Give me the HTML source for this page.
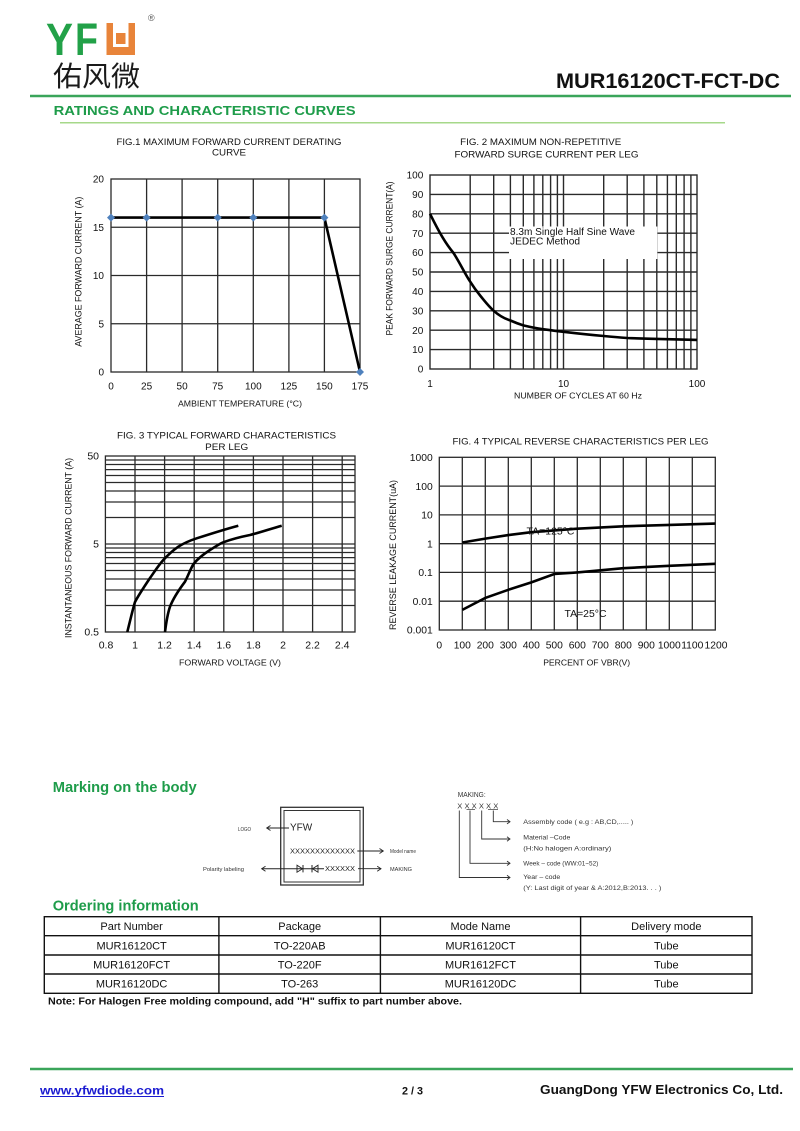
<!DOCTYPE html>
<html><head><meta charset="utf-8"><style>
html,body{margin:0;padding:0;background:#fff;}
svg{display:block;}
text{font-family:"Liberation Sans",Arial,sans-serif;}
</style></head><body>
<svg width="800" height="1131" viewBox="0 0 800 1131" xmlns="http://www.w3.org/2000/svg">
<rect width="800" height="1131" fill="#fff"/>

<!-- HEADER -->
<text x="46" y="55" font-size="45" font-weight="bold" fill="#22a148" textLength="27" lengthAdjust="spacingAndGlyphs">Y</text>
<text x="75" y="55" font-size="45" font-weight="bold" fill="#22a148" textLength="23" lengthAdjust="spacingAndGlyphs">F</text>
<path d="M106.5,23 H135 V55 H106.5 Z M113,23 V47 H128.5 V23 Z" fill="#e8843a" fill-rule="evenodd"/>
<path d="M116,33 H125.5 V44 H116 Z" fill="#e8843a"/>
<text x="148" y="21" font-size="9" fill="#555">®</text>
<text x="53" y="86" font-size="28" fill="#1a1a1a" font-family="'Noto Sans CJK SC','WenQuanYi Zen Hei',sans-serif" textLength="87" lengthAdjust="spacingAndGlyphs">佑风微</text>
<text x="556" y="88" font-size="21" font-weight="bold" fill="#111" textLength="224" lengthAdjust="spacingAndGlyphs">MUR16120CT-FCT-DC</text>
<line x1="30" y1="96" x2="791" y2="96" stroke="#3aa55a" stroke-width="2.5"/>
<text x="53.6" y="115" font-size="13" font-weight="bold" fill="#1e9c4a" textLength="302" lengthAdjust="spacingAndGlyphs">RATINGS AND CHARACTERISTIC CURVES</text>
<line x1="60" y1="122.7" x2="725" y2="122.7" stroke="#a6d88a" stroke-width="1.5"/>

<!-- FIG 1 -->
<g font-size="9.5" fill="#111" text-anchor="middle">
<text x="229" y="145" textLength="225" lengthAdjust="spacingAndGlyphs">FIG.1 MAXIMUM FORWARD CURRENT DERATING</text>
<text x="229" y="155.6" textLength="34" lengthAdjust="spacingAndGlyphs">CURVE</text>
</g>
<g stroke="#2a2a2a" stroke-width="1.3" fill="none">
<rect x="111" y="179" width="249" height="193"/>
<line x1="146.6" y1="179" x2="146.6" y2="372"/><line x1="182.1" y1="179" x2="182.1" y2="372"/>
<line x1="217.7" y1="179" x2="217.7" y2="372"/><line x1="253.3" y1="179" x2="253.3" y2="372"/>
<line x1="288.9" y1="179" x2="288.9" y2="372"/><line x1="324.4" y1="179" x2="324.4" y2="372"/>
<line x1="111" y1="227.25" x2="360" y2="227.25"/><line x1="111" y1="275.5" x2="360" y2="275.5"/>
<line x1="111" y1="323.75" x2="360" y2="323.75"/>
</g>
<polyline points="111,217.6 324.4,217.6 360,372" fill="none" stroke="#000" stroke-width="2.6"/>
<g fill="#4f81bd">
<polygon points="111,213.6 115,217.6 111,221.6 107,217.6"/>
<polygon points="146.6,213.6 150.6,217.6 146.6,221.6 142.6,217.6"/>
<polygon points="217.7,213.6 221.7,217.6 217.7,221.6 213.7,217.6"/>
<polygon points="253.3,213.6 257.3,217.6 253.3,221.6 249.3,217.6"/>
<polygon points="324.4,213.6 328.4,217.6 324.4,221.6 320.4,217.6"/>
<polygon points="360,368 364,372 360,376 356,372"/>
</g>
<g font-size="10" fill="#111" text-anchor="end">
<text x="104" y="182.6">20</text><text x="104" y="230.9">15</text><text x="104" y="279.1">10</text>
<text x="104" y="327.4">5</text><text x="104" y="375.6">0</text>
</g>
<g font-size="10" fill="#111" text-anchor="middle">
<text x="111" y="389.6">0</text><text x="146.6" y="389.6">25</text><text x="182.1" y="389.6">50</text>
<text x="217.7" y="389.6">75</text><text x="253.3" y="389.6">100</text><text x="288.9" y="389.6">125</text>
<text x="324.4" y="389.6">150</text><text x="360" y="389.6">175</text>
</g>
<text x="240" y="406.4" font-size="8.6" fill="#111" text-anchor="middle" textLength="124" lengthAdjust="spacingAndGlyphs">AMBIENT TEMPERATURE (°C)</text>
<text transform="translate(81.5,271.7) rotate(-90)" font-size="9" fill="#111" text-anchor="middle" textLength="150" lengthAdjust="spacingAndGlyphs">AVERAGE FORWARD CURRENT (A)</text>

<!-- FIG 2 -->
<g font-size="9.5" fill="#111" text-anchor="middle">
<text x="540.7" y="145" textLength="161" lengthAdjust="spacingAndGlyphs">FIG. 2 MAXIMUM NON-REPETITIVE</text>
<text x="546.5" y="157.3" textLength="184" lengthAdjust="spacingAndGlyphs">FORWARD SURGE CURRENT PER LEG</text>
</g>
<g stroke="#2a2a2a" stroke-width="1.4" fill="none">
<rect x="430" y="175" width="267" height="194"/>
<line x1="470.2" y1="175" x2="470.2" y2="369"/><line x1="493.7" y1="175" x2="493.7" y2="369"/>
<line x1="510.4" y1="175" x2="510.4" y2="369"/><line x1="523.3" y1="175" x2="523.3" y2="369"/>
<line x1="533.9" y1="175" x2="533.9" y2="369"/><line x1="542.8" y1="175" x2="542.8" y2="369"/>
<line x1="550.6" y1="175" x2="550.6" y2="369"/><line x1="557.4" y1="175" x2="557.4" y2="369"/>
<line x1="563.5" y1="175" x2="563.5" y2="369"/><line x1="603.7" y1="175" x2="603.7" y2="369"/>
<line x1="627.2" y1="175" x2="627.2" y2="369"/><line x1="643.9" y1="175" x2="643.9" y2="369"/>
<line x1="656.8" y1="175" x2="656.8" y2="369"/><line x1="667.4" y1="175" x2="667.4" y2="369"/>
<line x1="676.3" y1="175" x2="676.3" y2="369"/><line x1="684.1" y1="175" x2="684.1" y2="369"/>
<line x1="690.9" y1="175" x2="690.9" y2="369"/>
<line x1="430" y1="194.4" x2="697" y2="194.4"/><line x1="430" y1="213.8" x2="697" y2="213.8"/>
<line x1="430" y1="233.2" x2="697" y2="233.2"/><line x1="430" y1="252.6" x2="697" y2="252.6"/>
<line x1="430" y1="272" x2="697" y2="272"/><line x1="430" y1="291.4" x2="697" y2="291.4"/>
<line x1="430" y1="310.8" x2="697" y2="310.8"/><line x1="430" y1="330.2" x2="697" y2="330.2"/>
<line x1="430" y1="349.6" x2="697" y2="349.6"/>
</g>
<rect x="509" y="226.5" width="148.3" height="32.5" fill="#fff"/>
<text x="510" y="235" font-size="10" fill="#111" textLength="125" lengthAdjust="spacingAndGlyphs">8.3m Single Half Sine Wave</text>
<text x="510" y="244.5" font-size="10" fill="#111" textLength="70" lengthAdjust="spacingAndGlyphs">JEDEC Method</text>
<path d="M430,213.8 C440,234 446,244 453.5,253 C460,263 465,274 470.2,281.7 C476,291 479,294 483.1,299.2 C487,304 490,307.5 493.7,310.8 C499,315.5 504,318.5 510.4,320.5 C515,322.5 519,324 523.3,325.4 C530,327 536,328.3 542.8,329.2 C550,330.2 556,331 563.5,331.8 C578,333.5 590,334.8 603.7,336 C614,337 620,337.5 627.2,338 C640,338.6 648,338.7 656.8,338.9 C672,339.3 684,339.6 697,339.9" fill="none" stroke="#000" stroke-width="2.6"/>
<g font-size="10" fill="#111" text-anchor="end">
<text x="423.3" y="178.6">100</text><text x="423.3" y="198">90</text><text x="423.3" y="217.4">80</text>
<text x="423.3" y="236.8">70</text><text x="423.3" y="256.2">60</text><text x="423.3" y="275.6">50</text>
<text x="423.3" y="295">40</text><text x="423.3" y="314.4">30</text><text x="423.3" y="333.8">20</text>
<text x="423.3" y="353.2">10</text><text x="423.3" y="372.6">0</text>
</g>
<g font-size="10" fill="#111" text-anchor="middle">
<text x="430" y="386.8">1</text><text x="563.5" y="386.8">10</text><text x="697" y="386.8">100</text>
</g>
<text x="578" y="398.3" font-size="8.6" fill="#111" text-anchor="middle" textLength="128" lengthAdjust="spacingAndGlyphs">NUMBER OF CYCLES AT 60 Hz</text>
<text transform="translate(392.3,258.5) rotate(-90)" font-size="9" fill="#111" text-anchor="middle" textLength="154" lengthAdjust="spacingAndGlyphs">PEAK FORWARD SURGE CURRENT(A)</text>

<!-- FIG 3 -->
<g font-size="9.5" fill="#111" text-anchor="middle">
<text x="226.5" y="438.3" textLength="219" lengthAdjust="spacingAndGlyphs">FIG. 3 TYPICAL FORWARD CHARACTERISTICS</text>
<text x="226.7" y="450" textLength="43" lengthAdjust="spacingAndGlyphs">PER LEG</text>
</g>
<g stroke="#2a2a2a" stroke-width="1.3" fill="none">
<rect x="105.4" y="456" width="249.6" height="176"/>
<line x1="135" y1="456" x2="135" y2="632"/><line x1="164.6" y1="456" x2="164.6" y2="632"/>
<line x1="194.2" y1="456" x2="194.2" y2="632"/><line x1="223.8" y1="456" x2="223.8" y2="632"/>
<line x1="253.4" y1="456" x2="253.4" y2="632"/><line x1="283" y1="456" x2="283" y2="632"/>
<line x1="312.6" y1="456" x2="312.6" y2="632"/><line x1="342.2" y1="456" x2="342.2" y2="632"/>
<line x1="105.4" y1="605.5" x2="355" y2="605.5"/><line x1="105.4" y1="590" x2="355" y2="590"/>
<line x1="105.4" y1="579" x2="355" y2="579"/><line x1="105.4" y1="570.5" x2="355" y2="570.5"/>
<line x1="105.4" y1="563.5" x2="355" y2="563.5"/><line x1="105.4" y1="557.6" x2="355" y2="557.6"/>
<line x1="105.4" y1="552.5" x2="355" y2="552.5"/><line x1="105.4" y1="548" x2="355" y2="548"/>
<line x1="105.4" y1="544" x2="355" y2="544"/>
<line x1="105.4" y1="517.5" x2="355" y2="517.5"/><line x1="105.4" y1="502" x2="355" y2="502"/>
<line x1="105.4" y1="491" x2="355" y2="491"/><line x1="105.4" y1="482.5" x2="355" y2="482.5"/>
<line x1="105.4" y1="475.5" x2="355" y2="475.5"/><line x1="105.4" y1="469.6" x2="355" y2="469.6"/>
<line x1="105.4" y1="464.5" x2="355" y2="464.5"/><line x1="105.4" y1="460" x2="355" y2="460"/>
</g>
<path d="M127.3,632 L131,617 C133,609 134,605 135,602 C138,596 142,590 150,578 C155,571 158,566 163.3,560 C168,555 172,551 178.3,546.7 C184,543 190,540.5 196.7,538.3 C210,534 224,529.5 238.3,525.7" fill="none" stroke="#000" stroke-width="2.6"/>
<path d="M165,632 C166,624 167.5,614 170,606.7 C173,599 178,591 185,581.7 C188,576 190,570 193.3,564.3 C197,559.5 203,554.5 210,550 C215,547 219,544 223.3,542.3 C232,539 240,537 250,535 C260,532.5 270,529 281.7,525.7" fill="none" stroke="#000" stroke-width="2.6"/>
<g font-size="10.5" fill="#111" text-anchor="end">
<text x="99" y="459.7">50</text><text x="99" y="547.7">5</text><text x="99" y="635.7">0.5</text>
</g>
<g font-size="10.5" fill="#111" text-anchor="middle">
<text x="106" y="648.7">0.8</text><text x="135" y="648.7">1</text><text x="164.6" y="648.7">1.2</text>
<text x="194.2" y="648.7">1.4</text><text x="223.8" y="648.7">1.6</text><text x="253.4" y="648.7">1.8</text>
<text x="283" y="648.7">2</text><text x="312.6" y="648.7">2.2</text><text x="342.2" y="648.7">2.4</text>
</g>
<text x="230" y="665.6" font-size="8.6" fill="#111" text-anchor="middle" textLength="102" lengthAdjust="spacingAndGlyphs">FORWARD VOLTAGE (V)</text>
<text transform="translate(71.3,548) rotate(-90)" font-size="9" fill="#111" text-anchor="middle" textLength="180" lengthAdjust="spacingAndGlyphs">INSTANTANEOUS FORWARD CURRENT (A)</text>

<!-- FIG 4 -->
<text x="580.5" y="444.3" font-size="9.5" fill="#111" text-anchor="middle" textLength="256" lengthAdjust="spacingAndGlyphs">FIG. 4 TYPICAL REVERSE CHARACTERISTICS PER LEG</text>
<g stroke="#2a2a2a" stroke-width="1.3" fill="none">
<rect x="439.3" y="457.3" width="276" height="172.7"/>
<line x1="462.3" y1="457.3" x2="462.3" y2="630"/><line x1="485.3" y1="457.3" x2="485.3" y2="630"/>
<line x1="508.3" y1="457.3" x2="508.3" y2="630"/><line x1="531.3" y1="457.3" x2="531.3" y2="630"/>
<line x1="554.3" y1="457.3" x2="554.3" y2="630"/><line x1="577.3" y1="457.3" x2="577.3" y2="630"/>
<line x1="600.3" y1="457.3" x2="600.3" y2="630"/><line x1="623.3" y1="457.3" x2="623.3" y2="630"/>
<line x1="646.3" y1="457.3" x2="646.3" y2="630"/><line x1="669.3" y1="457.3" x2="669.3" y2="630"/>
<line x1="692.3" y1="457.3" x2="692.3" y2="630"/>
<line x1="439.3" y1="601.2" x2="715.3" y2="601.2"/><line x1="439.3" y1="572.4" x2="715.3" y2="572.4"/>
<line x1="439.3" y1="543.7" x2="715.3" y2="543.7"/><line x1="439.3" y1="514.9" x2="715.3" y2="514.9"/>
<line x1="439.3" y1="486.1" x2="715.3" y2="486.1"/>
</g>
<polyline points="462.3,542.5 485.3,538.6 508.3,535.1 531.3,532.2 554.3,530.4 577.3,528.7 623.3,526.3 669.3,524.9 715.3,523.6" fill="none" stroke="#000" stroke-width="2.6"/>
<polyline points="462.3,609.9 485.3,597.9 508.3,589.8 531.3,582.4 554.3,574 577.3,572.4 623.3,568.2 669.3,565.8 715.3,563.8" fill="none" stroke="#000" stroke-width="2.6"/>
<text x="526.5" y="534.5" font-size="10" fill="#111" textLength="48" lengthAdjust="spacingAndGlyphs">TA=125°C</text>
<text x="564.5" y="617" font-size="10" fill="#111" textLength="42" lengthAdjust="spacingAndGlyphs">TA=25°C</text>
<g font-size="10.3" fill="#111" text-anchor="end">
<text x="432.7" y="461">1000</text><text x="432.7" y="489.8">100</text><text x="432.7" y="518.6">10</text>
<text x="432.7" y="547.4">1</text><text x="432.7" y="576.1">0.1</text><text x="432.7" y="604.9">0.01</text>
<text x="432.7" y="633.7">0.001</text>
</g>
<g font-size="10.3" fill="#111" text-anchor="middle">
<text x="439.3" y="648.7">0</text><text x="462.3" y="648.7">100</text><text x="485.3" y="648.7">200</text>
<text x="508.3" y="648.7">300</text><text x="531.3" y="648.7">400</text><text x="554.3" y="648.7">500</text>
<text x="577.3" y="648.7">600</text><text x="600.3" y="648.7">700</text><text x="623.3" y="648.7">800</text>
<text x="646.3" y="648.7">900</text><text x="669.3" y="648.7">1000</text><text x="692.3" y="648.7">1100</text>
<text x="716" y="648.7">1200</text>
</g>
<text x="586.7" y="665.6" font-size="8.6" fill="#111" text-anchor="middle" textLength="87" lengthAdjust="spacingAndGlyphs">PERCENT OF VBR(V)</text>
<text transform="translate(396,555) rotate(-90)" font-size="9" fill="#111" text-anchor="middle" textLength="150" lengthAdjust="spacingAndGlyphs">REVERSE LEAKAGE CURRENT(uA)</text>

<!-- MARKING -->
<text x="52.7" y="792" font-size="15" font-weight="bold" fill="#1e9c4a" textLength="144" lengthAdjust="spacingAndGlyphs">Marking on the body</text>
<rect x="280.7" y="807.3" width="82.6" height="77.7" fill="none" stroke="#333" stroke-width="1.3"/>
<rect x="284" y="810.5" width="76" height="71.5" fill="none" stroke="#333" stroke-width="1"/>
<text x="290" y="830.5" font-size="10" fill="#222">YFW</text>
<text x="238" y="831" font-size="5.8" fill="#333" textLength="13" lengthAdjust="spacingAndGlyphs">LOGO</text>
<line x1="266.7" y1="828" x2="289" y2="828" stroke="#222" stroke-width="1"/>
<polyline points="270.5,825.5 266.7,828 270.5,830.5" fill="none" stroke="#222" stroke-width="0.9"/>
<text x="290" y="853.5" font-size="7.5" fill="#222" font-family="'Liberation Serif',serif" textLength="65" lengthAdjust="spacingAndGlyphs">XXXXXXXXXXXXX</text>
<line x1="357.3" y1="851" x2="383.3" y2="851" stroke="#222" stroke-width="0.9"/>
<polyline points="379.5,848.5 383.3,851 379.5,853.5" fill="none" stroke="#222" stroke-width="0.9"/>
<text x="390" y="853" font-size="5.8" fill="#333" textLength="26" lengthAdjust="spacingAndGlyphs">Model name</text>
<text x="203" y="871" font-size="5.8" fill="#333" textLength="41" lengthAdjust="spacingAndGlyphs">Polarity labeling</text>
<line x1="261.7" y1="868.7" x2="324" y2="868.7" stroke="#222" stroke-width="1"/>
<polyline points="265.5,866.2 261.7,868.7 265.5,871.2" fill="none" stroke="#222" stroke-width="0.9"/>
<polygon points="297,865.2 297,872.2 302.5,868.7" fill="none" stroke="#222" stroke-width="0.9"/>
<line x1="303" y1="865" x2="303" y2="872.4" stroke="#222" stroke-width="1"/>
<polygon points="318,865.2 318,872.2 312.5,868.7" fill="none" stroke="#222" stroke-width="0.9"/>
<line x1="312" y1="865" x2="312" y2="872.4" stroke="#222" stroke-width="1"/>
<text x="325" y="871.2" font-size="7.5" fill="#222" font-family="'Liberation Serif',serif" textLength="30" lengthAdjust="spacingAndGlyphs">XXXXXX</text>
<line x1="358" y1="868.7" x2="381" y2="868.7" stroke="#222" stroke-width="0.9"/>
<polyline points="377.2,866.2 381,868.7 377.2,871.2" fill="none" stroke="#222" stroke-width="0.9"/>
<text x="390" y="871" font-size="5.8" fill="#333" textLength="22" lengthAdjust="spacingAndGlyphs">MAKING</text>

<text x="457.7" y="797" font-size="7" fill="#333" textLength="28" lengthAdjust="spacingAndGlyphs">MAKING:</text>
<text x="457.3" y="808.3" font-size="7.5" fill="#333" textLength="41" lengthAdjust="spacingAndGlyphs">X X X X X X</text>
<line x1="466.5" y1="809.5" x2="475" y2="809.5" stroke="#333" stroke-width="0.7"/>
<line x1="488" y1="809.5" x2="498" y2="809.5" stroke="#333" stroke-width="0.7"/>
<g stroke="#333" stroke-width="0.9" fill="none">
<polyline points="493.3,810.5 493.3,821.7 510,821.7"/><polyline points="507,819.5 510,821.7 507,823.9"/>
<polyline points="481.7,810.5 481.7,839 510,839"/><polyline points="507,836.8 510,839 507,841.2"/>
<polyline points="470,810.5 470,863.3 510,863.3"/><polyline points="507,861.1 510,863.3 507,865.5"/>
<polyline points="459.3,810.5 459.3,877.5 510,877.5"/><polyline points="507,875.3 510,877.5 507,879.7"/>
</g>
<g font-size="6.3" fill="#333">
<text x="523.3" y="824.2" textLength="110" lengthAdjust="spacingAndGlyphs">Assembly code ( e.g : AB,CD,..... )</text>
<text x="523.3" y="839.5" textLength="47" lengthAdjust="spacingAndGlyphs">Material –Code</text>
<text x="523.3" y="850.5" textLength="88" lengthAdjust="spacingAndGlyphs">(H:No halogen    A:ordinary)</text>
<text x="523.3" y="865.5" textLength="75" lengthAdjust="spacingAndGlyphs">Week – code (WW:01~52)</text>
<text x="523.3" y="879" textLength="37" lengthAdjust="spacingAndGlyphs">Year – code</text>
<text x="523.3" y="890" textLength="138" lengthAdjust="spacingAndGlyphs">(Y: Last digit of year &amp; A:2012,B:2013. . . )</text>
</g>

<!-- ORDERING -->
<text x="52.7" y="910.5" font-size="15" font-weight="bold" fill="#1e9c4a" textLength="146" lengthAdjust="spacingAndGlyphs">Ordering information</text>
<g stroke="#111" stroke-width="1.4" fill="none">
<rect x="44.3" y="916.7" width="707.7" height="76.6"/>
<line x1="44.3" y1="935.7" x2="752" y2="935.7"/>
<line x1="44.3" y1="955" x2="752" y2="955"/>
<line x1="44.3" y1="974" x2="752" y2="974"/>
<line x1="218.9" y1="916.7" x2="218.9" y2="993.3"/>
<line x1="380.4" y1="916.7" x2="380.4" y2="993.3"/>
<line x1="580.6" y1="916.7" x2="580.6" y2="993.3"/>
</g>
<g font-size="11" fill="#111" text-anchor="middle">
<text x="131.6" y="930">Part Number</text><text x="299.7" y="930">Package</text>
<text x="480.5" y="930">Mode Name</text><text x="666.3" y="930">Delivery mode</text>
<text x="131.6" y="949.3">MUR16120CT</text><text x="299.7" y="949.3">TO-220AB</text>
<text x="480.5" y="949.3">MUR16120CT</text><text x="666.3" y="949.3">Tube</text>
<text x="131.6" y="968.5">MUR16120FCT</text><text x="299.7" y="968.5">TO-220F</text>
<text x="480.5" y="968.5">MUR1612FCT</text><text x="666.3" y="968.5">Tube</text>
<text x="131.6" y="987.7">MUR16120DC</text><text x="299.7" y="987.7">TO-263</text>
<text x="480.5" y="987.7">MUR16120DC</text><text x="666.3" y="987.7">Tube</text>
</g>
<text x="48" y="1004.5" font-size="10" font-weight="bold" fill="#111" textLength="414" lengthAdjust="spacingAndGlyphs">Note: For Halogen Free molding compound, add "H" suffix to part number above.</text>

<!-- FOOTER -->
<line x1="30" y1="1069" x2="793" y2="1069" stroke="#3aa55a" stroke-width="2.5"/>
<text x="40" y="1094.5" font-size="12" font-weight="bold" fill="#1a1ad0" textLength="124" lengthAdjust="spacingAndGlyphs">www.yfwdiode.com</text>
<line x1="40" y1="1096.5" x2="164" y2="1096.5" stroke="#1a1ad0" stroke-width="1"/>
<text x="402" y="1094.5" font-size="11" font-weight="bold" fill="#111" textLength="21" lengthAdjust="spacingAndGlyphs">2 / 3</text>
<text x="540" y="1094" font-size="13" font-weight="bold" fill="#111" textLength="243" lengthAdjust="spacingAndGlyphs">GuangDong YFW Electronics Co, Ltd.</text>
</svg>
</body></html>
